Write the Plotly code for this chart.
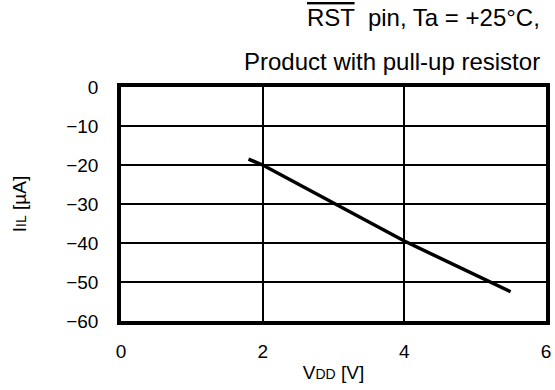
import plotly.graph_objects as go

# ── Data ──────────────────────────────────────────────────────────────────────
vdd = [1.8, 2.0, 4.0, 5.5]          # V
iil = [-18.5, -20.0, -39.5, -52.5]  # µA

x_ticks = [0, 2, 4, 6]
y_ticks = [0, -10, -20, -30, -40, -50, -60]

FONT = "Liberation Sans, Arial, sans-serif"
W, H = 555, 390
L, R, T, B = 121, 5, 87, 69
PW, PH = W - L - R, H - T - B


def px_to_paper(px, py):
    return (px - L) / PW, (H - B - py) / PH


fig = go.Figure(go.Scatter(
    x=vdd, y=iil, mode="lines",
    line=dict(color="black", width=3.5),
    showlegend=False,
))

axis_common = dict(
    showgrid=True, gridcolor="black", gridwidth=1.5,
    showline=True, linecolor="black", linewidth=3.5, mirror=True,
    zeroline=False, ticks="",
)

fig.update_layout(
    width=W, height=H,
    paper_bgcolor="white", plot_bgcolor="white",
    margin=dict(l=L, r=R, t=T, b=B),
    font=dict(family=FONT, size=19, color="black"),
    xaxis=dict(
        range=[0, 6], tickvals=x_ticks, ticktext=[str(v) for v in x_ticks],
        ticklabelstandoff=10,
        title=dict(text="V<span style='font-size:14px'>DD</span> [V]",
                   font=dict(size=19), standoff=6),
        **axis_common,
    ),
    yaxis=dict(
        range=[-60, 0], tickvals=y_ticks,
        ticktext=["0" if v == 0 else f"\u2212{abs(v)}" for v in y_ticks],
        ticklabelstandoff=15,
        title=dict(text="I<span style='font-size:14px'>IL</span> [µA]",
                   font=dict(size=19), standoff=36),
        **axis_common,
    ),
)

x1, y1 = px_to_paper(546, 18)
x2, y2 = px_to_paper(546, 62)
fig.add_annotation(text="<span style='text-decoration:overline'>RST</span>  pin, Ta = +25°C,",
                   x=x1, y=y1, xref="paper", yref="paper", showarrow=False,
                   xanchor="right", yanchor="middle", font=dict(size=24))
fig.add_annotation(text="Product with pull-up resistor",
                   x=x2, y=y2, xref="paper", yref="paper", showarrow=False,
                   xanchor="right", yanchor="middle", font=dict(size=24))

fig.write_html("out.html", config={"displayModeBar": False},
               post_script="document.body.style.margin='0';")
